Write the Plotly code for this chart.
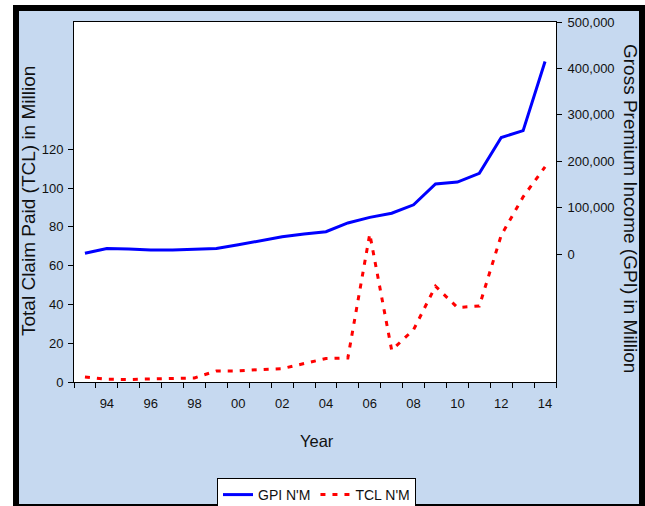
import plotly.graph_objects as go

years = list(range(1993, 2015))
gpi = [1500, 12000, 11000, 8600, 8600, 10000, 12000, 20000, 29000, 37000, 43000,
       48000, 67000, 79000, 88000, 106000, 151000, 155000, 174000, 251000, 266000, 415000]
tcl = [2.6, 1.4, 1.3, 1.5, 1.6, 2.1, 5.7, 5.7, 6.4, 6.9, 9.5,
       12.1, 12.4, 76.4, 16.4, 27.0, 49.4, 38.4, 39.2, 75.7, 95.5, 111.0]
xtick_vals = list(range(1994, 2015, 2))
xtick_text = ["94", "96", "98", "00", "02", "04", "06", "08", "10", "12", "14"]
left_ticks = [0, 20, 40, 60, 80, 100, 120]
right_ticks = [0, 100000, 200000, 300000, 400000, 500000]

W, H = 645, 506
L, R, T, B = 74, 556, 22, 382
pw, ph = R - L, B - T

def px(x):
    return (x - L) / pw

def py(y):
    return (B - y) / ph

font = "Liberation Sans, Arial, sans-serif"

fig = go.Figure()
fig.add_trace(go.Scatter(x=years, y=gpi, name="GPI N'M", yaxis="y2", mode="lines",
                         line=dict(color="#0000FF", width=3)))
fig.add_trace(go.Scatter(x=years, y=tcl, name="TCL N'M", yaxis="y", mode="lines",
                         line=dict(color="#FF0000", width=3, dash="5px,7px")))

fig.update_layout(
    width=W, height=H,
    margin=dict(l=L, r=W - R, t=T, b=H - B, autoexpand=False),
    paper_bgcolor="white",
    plot_bgcolor="white",
    font=dict(family=font, size=13, color="#111111"),
    xaxis=dict(range=[1992.5, 2014.5], tickmode="array", tickvals=xtick_vals,
               ticktext=xtick_text, ticks="", showgrid=False, zeroline=False,
               showline=True, linecolor="black", linewidth=1, mirror=True,
               tickfont=dict(size=13), ticklabelstandoff=9,
               minor=dict(tickmode="array", tickvals=[y + 0.5 for y in range(1992, 2015)],
                          ticks="outside", ticklen=5, tickcolor="black", tickwidth=1,
                          showgrid=False)),
    yaxis=dict(range=[0, 185.7], tickmode="array", tickvals=left_ticks,
               ticks="outside", ticklen=5, tickcolor="black", showgrid=False,
               zeroline=False, showline=True, linecolor="black", linewidth=1,
               tickfont=dict(size=13), ticklabelstandoff=2),
    yaxis2=dict(range=[-275800, 500000], overlaying="y", side="right",
                tickmode="array", tickvals=right_ticks, tickformat=",d",
                ticks="outside", ticklen=5, tickcolor="black", showgrid=False,
                zeroline=False, showline=True, linecolor="black", linewidth=1,
                tickfont=dict(size=13), ticklabelstandoff=3),
    legend=dict(orientation="h", x=px(217), y=py(478), xanchor="left", yanchor="top",
                bgcolor="white", bordercolor="black", borderwidth=1,
                font=dict(size=14), itemwidth=30, tracegroupgap=0),
    showlegend=True,
)

fig.add_shape(type="rect", xref="paper", yref="paper", layer="below",
              x0=px(13), x1=px(648), y0=py(509), y1=py(5),
              fillcolor="black", line=dict(width=0))
fig.add_shape(type="rect", xref="paper", yref="paper", layer="below",
              x0=px(19), x1=px(639), y0=py(504), y1=py(11),
              fillcolor="#C6D9F0", line=dict(width=0))
fig.add_shape(type="rect", xref="paper", yref="paper", layer="below",
              x0=0, x1=1, y0=0, y1=1,
              fillcolor="white", line=dict(width=0))

fig.add_annotation(text="Total Claim Paid (TCL) in Million", xref="paper", yref="paper",
                   x=px(28), y=py(201), textangle=-90, showarrow=False,
                   font=dict(size=19), xanchor="center", yanchor="middle")
fig.add_annotation(text="Gross Premium Income (GPI) in Million", xref="paper", yref="paper",
                   x=px(630), y=py(208), textangle=90, showarrow=False,
                   font=dict(size=19), xanchor="center", yanchor="middle")
fig.add_annotation(text="Year", xref="paper", yref="paper",
                   x=px(317), y=py(441), showarrow=False,
                   font=dict(size=16.5), xanchor="center", yanchor="middle")

fig.write_html("out.html", config={"displayModeBar": False},
               post_script="document.body.style.margin='0';document.body.style.overflow='hidden';")
